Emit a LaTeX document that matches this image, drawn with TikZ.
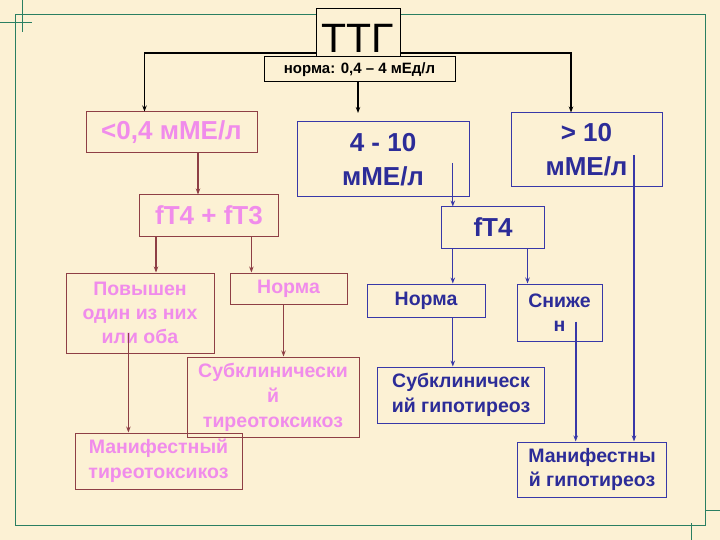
\documentclass[tikz,border=0pt]{standalone}
\usepackage{fontspec}
\setmainfont{Liberation Sans}
\usetikzlibrary{arrows.meta}
\definecolor{bg}{HTML}{FCF1D4}
\definecolor{framec}{HTML}{2A7F62}
\definecolor{pinkt}{HTML}{F08CEB}
\definecolor{brownc}{HTML}{8E3F45}
\definecolor{bluet}{HTML}{2C2C98}
\definecolor{bluel}{HTML}{3838A8}
\begin{document}
\begin{tikzpicture}[x=1pt,y=-1pt,
 bx/.style={draw,line width=1pt,inner sep=0pt,align=center,anchor=center},
 pk/.style={bx,draw=brownc,text=pinkt,font=\bfseries\fontsize{19.5}{24}\selectfont},
 pkbig/.style={bx,draw=brownc,text=pinkt,font=\bfseries\fontsize{26}{34}\selectfont},
 bl/.style={bx,draw=bluel,text=bluet,font=\bfseries\fontsize{19.5}{24.5}\selectfont},
 blbig/.style={bx,draw=bluel,text=bluet,font=\bfseries\fontsize{26}{34}\selectfont},
 arr/.style={-{Stealth[length=6pt,width=4.5pt]}},
 blk/.style={arr,draw=black,line width=1.2pt},
 brn/.style={arr,draw=brownc,line width=1.2pt},
 blu/.style={arr,draw=bluel,line width=0.9pt},
 bluthick/.style={arr,draw=bluel,line width=1.8pt},
 frm/.style={draw=framec,line width=1pt}
]
\useasboundingbox (0,0) rectangle (720,540);
\fill[bg] (0,0) rectangle (720,540);
\draw[frm] (15,15) rectangle (705,525);
\draw[frm] (22.7,0) -- (22.7,32) (0,22.7) -- (32,22.7)
  (705,510) -- (720,510) (691,523) -- (691,540);

% top
\node[bx,fill=bg,minimum width=84pt,minimum height=48pt,text height=39pt,text depth=0pt,
  font=\fontsize{41}{41}\selectfont] (ttg) at (358,33) {ТТГ};
\node[bx,fill=bg,minimum width=191pt,minimum height=25pt,
  font=\bfseries\fontsize{15}{17}\selectfont] (norma) at (359.5,69.5) {норма: 0,4 – 4 мЕд/л};

% level 1
\node[pkbig,minimum width=171pt,minimum height=41pt] (lt) at (171.5,132.5) {<0,4 мМЕ/л};
\node[blbig,minimum width=172pt,minimum height=75pt] (mid) at (383,159.5) {4 - 10\\мМЕ/л};
\node[blbig,minimum width=151pt,minimum height=74pt] (gt) at (586.5,150) {> 10\\мМЕ/л};

% left branch
\node[pkbig,minimum width=139pt,minimum height=41pt] (ft43) at (209,215.5) {fT4 + fT3};
\node[pk,minimum width=148pt,minimum height=80pt] (pov) at (140,313) {Повышен\\один из них\\или оба};
\node[pk,minimum width=117pt,minimum height=31pt] (normL) at (288.5,288.5) {Норма};
\node[pk,minimum width=172pt,minimum height=80pt,font=\bfseries\fontsize{19.5}{25}\selectfont] (subT) at (273,397) {Субклинически\\й\\тиреотоксикоз};
\node[pk,minimum width=167pt,minimum height=56pt,font=\bfseries\fontsize{19.5}{25}\selectfont] (manT) at (158.5,461) {Манифестный\\тиреотоксикоз};

% right branch
\node[blbig,minimum width=102.5pt,minimum height=41pt] (ft4) at (493,227.5) {fT4};
\node[bl,minimum width=118pt,minimum height=33pt] (normR) at (426,300.5) {Норма};
\node[bl,minimum width=85pt,minimum height=57pt] (snizh) at (559.5,312.5) {Сниже\\н};
\node[bl,minimum width=166.5pt,minimum height=56pt] (subH) at (461,395) {Субклиническ\\ий гипотиреоз};
\node[bl,minimum width=149pt,minimum height=55pt] (manH) at (592,469.5) {Манифестны\\й гипотиреоз};

% black connectors
\coordinate (cL) at (144.5,53);
\coordinate (cR) at (571,53);
\coordinate (mEnd) at (358,113);
\draw[blk] (ttg.west |- cL) -- (cL) -- (cL |- lt.north);
\draw[blk] (ttg.east |- cR) -- (cR) -- (cR |- gt.north);
\draw[blk] (norma.south -| mEnd) -- (mEnd);

% brown connectors
\coordinate (xa) at (198,0);
\coordinate (xb) at (156,0);
\coordinate (xc) at (251.4,0);
\coordinate (xd) at (283.5,0);
\coordinate (povStart) at (128.4,333);
\draw[brn] (lt.south -| xa) -- (ft43.north -| xa);
\draw[brn] (ft43.south -| xb) -- (pov.north -| xb);
\draw[brn] (ft43.south -| xc) -- (normL.north -| xc);
\draw[brn] (normL.south -| xd) -- (subT.north -| xd);
\draw[brn] (povStart) -- (manT.north -| povStart);

% blue connectors
\coordinate (midStart) at (452.8,163);
\coordinate (xe) at (452.8,0);
\coordinate (xf) at (527.5,0);
\coordinate (snStart) at (575.7,321.7);
\coordinate (gtStart) at (634,155);
\draw[blu] (midStart) -- (ft4.north -| midStart);
\draw[blu] (ft4.south -| xe) -- (normR.north -| xe);
\draw[blu] (ft4.south -| xf) -- (snizh.north -| xf);
\draw[blu] (normR.south -| xe) -- (subH.north -| xe);
\draw[bluthick] (snStart) -- (manH.north -| snStart);
\draw[bluthick] (gtStart) -- (manH.north -| gtStart);
\end{tikzpicture}
\end{document}
